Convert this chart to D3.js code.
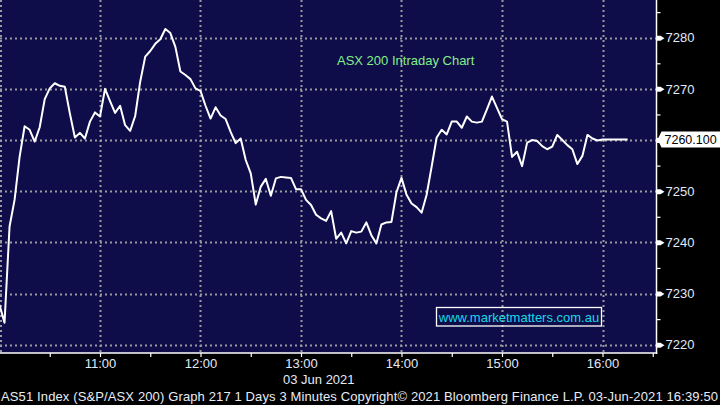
<!DOCTYPE html>
<html>
<head>
<meta charset="utf-8">
<script src="https://cdn.jsdelivr.net/npm/d3@7"></script>
<style>
  html, body { margin: 0; padding: 0; background: #000; }
  svg { display: block; }
  text { font-family: "Liberation Sans", Arial, sans-serif; }
</style>
</head>
<body>
<svg id="chart" width="720" height="405"></svg>
<script>
// ---- Data (ASX 200 intraday, 3-minute bars from 10:00, 03 Jun 2021) ----
const sessionStart = "10:00";
const barMinutes = 3;
const values = [
  7227.8, 7224.3, 7243.1, 7248.3, 7256.7, 7262.7, 7262.0, 7259.7, 7262.5, 7268.0,
  7270.1, 7271.1, 7270.6, 7270.4, 7265.2, 7260.5, 7261.4, 7260.3, 7263.6, 7265.4,
  7264.6, 7270.0, 7267.6, 7265.3, 7266.7, 7262.9, 7261.8, 7264.7, 7271.4, 7276.3,
  7277.4, 7278.8, 7279.7, 7281.7, 7280.9, 7278.2, 7273.4, 7272.7, 7271.9, 7270.1,
  7269.6, 7266.7, 7264.2, 7266.4, 7264.8, 7264.1, 7261.6, 7259.4, 7260.3, 7256.1,
  7253.5, 7247.4, 7250.9, 7252.4, 7249.1, 7252.5, 7252.8, 7252.7, 7252.6, 7250.4,
  7250.4, 7248.3, 7247.3, 7245.4, 7244.7, 7244.2, 7246.1, 7240.7, 7241.9, 7239.8,
  7242.2, 7241.9, 7242.1, 7243.9, 7241.4, 7239.8, 7243.5, 7243.9, 7244.0, 7249.8,
  7252.6, 7249.3, 7247.6, 7246.9, 7245.8, 7249.3, 7254.8, 7260.5, 7262.0, 7261.1,
  7263.6, 7263.6, 7262.4, 7264.6, 7263.6, 7263.4, 7263.6, 7266.0, 7268.5, 7266.3,
  7264.1, 7263.6, 7256.7, 7257.7, 7254.9, 7259.5, 7260.0, 7259.8, 7258.8, 7258.2,
  7258.7, 7261.0, 7260.0, 7259.0, 7258.2, 7255.3, 7256.9, 7261.0, 7260.3, 7259.9,
  7260.1, 7260.1, 7260.1, 7260.1, 7260.1, 7260.1
];
const lastPrice = "7260.100";
const yTicks = [7220, 7230, 7240, 7250, 7260, 7270, 7280];
const yMinorTicks = [7225, 7235, 7245, 7255, 7265, 7275, 7285];
const xHourTicks = ["10:00", "11:00", "12:00", "13:00", "14:00", "15:00", "16:00"];
const xHalfTicks = ["10:30", "11:00", "11:30", "12:00", "12:30", "13:00", "13:30", "14:00", "14:30", "15:00", "15:30", "16:00", "16:30"];
const title = "ASX 200 Intraday Chart";
const dateLabel = "03 Jun 2021";
const watermark = "www.marketmatters.com.au";
const footer = "AS51 Index (S&P/ASX 200) Graph 217 1 Days 3 Minutes Copyright\u00A9 2021 Bloomberg Finance L.P. 03-Jun-2021 16:39:50";

// ---- Helpers ----
const parseT = d3.timeParse("%Y-%m-%d %H:%M");
const T = s => parseT("2021-06-03 " + s);
const t0 = T(sessionStart);
const series = values.map((v, i) => ({ t: d3.timeMinute.offset(t0, i * barMinutes), v }));

// ---- Layout ----
const W = 720, H = 405;
const plotRight = 656.5, plotBottom = 353;

const svg = d3.select("#chart");
svg.append("rect").attr("width", W).attr("height", H).attr("fill", "#000");
svg.append("rect").attr("x", 0).attr("y", 0).attr("width", plotRight).attr("height", plotBottom)
  .attr("fill", "#0e0c49");

const x = d3.scaleTime().domain([T("10:00"), T("16:00")]).range([-0.5, 602.5]);
const y = d3.scaleLinear().domain([7220, 7280]).range([344.7, 37.7]);

svg.append("clipPath").attr("id", "plotclip").append("rect")
  .attr("x", 0).attr("y", 0).attr("width", plotRight).attr("height", plotBottom);

const plot = svg.append("g").attr("clip-path", "url(#plotclip)");

// grid
const gridColor = "#9a9a9e";
plot.append("g").selectAll("line").data(yTicks).join("line")
  .attr("x1", 0).attr("x2", plotRight)
  .attr("y1", d => Math.round(y(d)) + 0.5).attr("y2", d => Math.round(y(d)) + 0.5)
  .attr("stroke", gridColor).attr("stroke-width", 2).attr("stroke-dasharray", "2,3");
plot.append("g").selectAll("line").data(xHourTicks).join("line")
  .attr("x1", d => Math.max(1, Math.round(x(T(d))) + 0.5)).attr("x2", d => Math.max(1, Math.round(x(T(d))) + 0.5))
  .attr("y1", 0).attr("y2", plotBottom)
  .attr("stroke", gridColor).attr("stroke-width", 2).attr("stroke-dasharray", "2,3");

// title
svg.append("text").attr("x", 337).attr("y", 65)
  .attr("font-size", 13).attr("fill", "#84ee88").text(title);

// watermark
svg.append("rect").attr("x", 436.5).attr("y", 307.5).attr("width", 165).attr("height", 18.5)
  .attr("fill", "none").attr("stroke", "#ffffff").attr("stroke-width", 1.3);
svg.append("text").attr("x", 519).attr("y", 321.5).attr("text-anchor", "middle")
  .attr("font-size", 13).attr("fill", "#18d8e8").text(watermark);

// line
const line = d3.line().x(d => x(d.t)).y(d => y(d.v));
plot.append("path").datum(series)
  .attr("d", line).attr("fill", "none").attr("stroke", "#ffffff")
  .attr("stroke-width", 2).attr("stroke-linejoin", "round");

// right axis
const labelColor = "#e4eaf8";
const yAxisMinor = svg.append("g").attr("transform", `translate(${plotRight},0)`)
  .call(d3.axisRight(y).tickValues(yMinorTicks).tickSize(4).tickFormat(""));
yAxisMinor.select(".domain").remove();
yAxisMinor.selectAll("line").attr("stroke", "#fff").attr("stroke-width", 1.2);

// the 7260 label is hidden behind the last-price tag in the reference
const yAxis = svg.append("g").attr("transform", `translate(${plotRight},0)`)
  .call(d3.axisRight(y).tickValues(yTicks).tickSize(0).tickPadding(9)
    .tickFormat(d => (Math.abs(d - (+lastPrice)) < 5 ? "" : d3.format("d")(d))));
yAxis.select(".domain").remove();
yAxis.selectAll("text").attr("font-size", 13).attr("fill", labelColor)
  .attr("font-family", "Liberation Sans, Arial, sans-serif");
yAxis.selectAll(".tick").append("path")
  .attr("d", "M0,-2.5 L4,-2.5 L8,0 L4,2.5 L0,2.5 Z").attr("fill", "#fff");

svg.append("line").attr("x1", plotRight).attr("x2", plotRight).attr("y1", 0).attr("y2", plotBottom + 1)
  .attr("stroke", "#fff").attr("stroke-width", 1.5);

// bottom axis
const xAxisMinor = svg.append("g").attr("transform", `translate(0,${plotBottom})`)
  .call(d3.axisBottom(x).tickValues(xHalfTicks.map(T)).tickSize(4).tickFormat(""));
xAxisMinor.select(".domain").remove();
xAxisMinor.selectAll("line").attr("stroke", "#fff").attr("stroke-width", 1.2);

const xAxis = svg.append("g").attr("transform", `translate(0,${plotBottom})`)
  .call(d3.axisBottom(x).tickValues(xHourTicks.slice(1).map(T)).tickSize(0).tickPadding(6)
    .tickFormat(d3.timeFormat("%H:%M")));
xAxis.select(".domain").remove();
xAxis.selectAll("text").attr("font-size", 13).attr("fill", labelColor)
  .attr("font-family", "Liberation Sans, Arial, sans-serif");

svg.append("line").attr("x1", 0).attr("x2", plotRight + 0.75).attr("y1", plotBottom).attr("y2", plotBottom)
  .attr("stroke", "#fff").attr("stroke-width", 1.5);

svg.append("text").attr("x", 283).attr("y", 383.5)
  .attr("font-size", 13).attr("fill", labelColor).text(dateLabel);

// last price tag
const py = y(+lastPrice);
svg.append("path")
  .attr("d", `M${plotRight + 1},${py} L${plotRight + 5},${py - 8} L720,${py - 8} L720,${py + 8} L${plotRight + 5},${py + 8} Z`)
  .attr("fill", "#fff");
svg.append("text").attr("x", 664.5).attr("y", py + 4.5)
  .attr("font-size", 12.5).attr("fill", "#000").text(lastPrice);

// footer
svg.append("text").attr("x", 1).attr("y", 400.5)
  .attr("font-size", 13).attr("fill", "#e8ecf4")
  .attr("textLength", 717).attr("lengthAdjust", "spacing").text(footer);
</script>
</body>
</html>
